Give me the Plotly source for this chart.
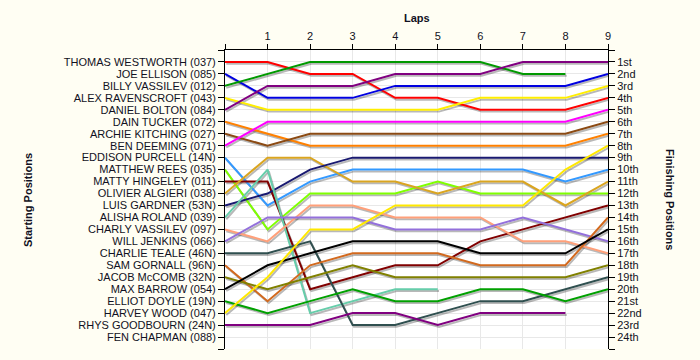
import plotly.graph_objects as go

laps = [0, 1, 2, 3, 4, 5, 6, 7, 8, 9]
lap_labels = ["", "1", "2", "3", "4", "5", "6", "7", "8", "9"]

drivers = [
    "THOMAS WESTWORTH (037)", "JOE ELLISON (085)", "BILLY VASSILEV (012)",
    "ALEX RAVENSCROFT (043)", "DANIEL BOLTON (084)", "DAIN TUCKER (072)",
    "ARCHIE KITCHING (027)", "BEN DEEMING (071)", "EDDISON PURCELL (14N)",
    "MATTHEW REES (035)", "MATTY HINGELEY (011)", "OLIVIER ALGIERI (038)",
    "LUIS GARDNER (53N)", "ALISHA ROLAND (039)", "CHARLY VASSILEV (097)",
    "WILL JENKINS (066)", "CHARLIE TEALE (46N)", "SAM GORNALL (96N)",
    "JACOB McCOMB (32N)", "MAX BARROW (054)", "ELLIOT DOYLE (19N)",
    "HARVEY WOOD (047)", "RHYS GOODBOURN (24N)", "FEN CHAPMAN (088)",
]

finish_labels = ["1st", "2nd", "3rd", "4th", "5th", "6th", "7th", "8th", "9th", "10th",
                 "11th", "12th", "13th", "14th", "15th", "16th", "17th", "18th", "19th",
                 "20th", "21st", "22nd", "23rd", "24th"]

N = None
thomas_westworth = [1, 1, 2, 2, 4, 4, 5, 5, 5, 4]
joe_ellison = [2, 4, 4, 4, 3, 3, 3, 3, 3, 2]
billy_vassilev = [3, 2, 1, 1, 1, 1, 1, 2, 2, N]
alex_ravenscroft = [4, 5, 5, 5, 5, 5, 4, 4, 4, 3]
daniel_bolton = [5, 3, 3, 3, 2, 2, 2, 1, 1, 1]
dain_tucker = [6, 7, 8, 8, 8, 8, 8, 8, 8, 7]
archie_kitching = [7, 8, 7, 7, 7, 7, 7, 7, 7, 6]
ben_deeming = [8, 6, 6, 6, 6, 6, 6, 6, 6, 5]
eddison_purcell = [9, 13, 11, 10, 10, 10, 10, 10, 11, 10]
matthew_rees = [10, 15, 12, 12, 12, 11, 12, 12, 12, 12]
matty_hingeley = [11, 11, 20, 19, 18, 18, 16, 15, 14, 13]
olivier_algieri = [12, 9, 9, 11, 11, 12, 11, 11, 13, 11]
luis_gardner = [13, 12, 10, 9, 9, 9, 9, 9, 9, 9]
alisha_roland = [14, 10, 22, 21, 20, 20, N, N, N, N]
charly_vassilev = [15, 16, 13, 13, 14, 14, 14, 16, 16, 17]
will_jenkins = [16, 14, 14, 14, 15, 15, 15, 14, 15, 16]
charlie_teale = [17, 17, 16, 23, 23, 22, 21, 21, 20, 19]
sam_gornall = [18, 21, 18, 17, 17, 17, 18, 18, 18, 14]
jacob_mccomb = [19, 20, 19, 18, 19, 19, 19, 19, 19, 18]
max_barrow = [20, 18, 17, 16, 16, 16, 17, 17, 17, 15]
elliot_doyle = [21, 22, 21, 20, 21, 21, 20, 20, 21, 20]
harvey_wood = [22, 19, 15, 15, 13, 13, 13, 13, 10, 8]
rhys_goodbourn = [23, 23, 23, 22, 22, 23, 22, 22, 22, N]

series = [
    (thomas_westworth, "#FF0000"), (joe_ellison, "#0000E0"), (billy_vassilev, "#009900"),
    (alex_ravenscroft, "#FFEE00"), (daniel_bolton, "#800080"), (dain_tucker, "#FF8000"),
    (archie_kitching, "#8B4A13"), (ben_deeming, "#FF00FF"), (eddison_purcell, "#3399FF"),
    (matthew_rees, "#7FFF00"), (matty_hingeley, "#800000"), (olivier_algieri, "#DAA520"),
    (luis_gardner, "#191970"), (alisha_roland, "#66CDAA"), (charly_vassilev, "#FFA07A"),
    (will_jenkins, "#9370DB"), (charlie_teale, "#2F4F4F"), (sam_gornall, "#D2691E"),
    (jacob_mccomb, "#808000"), (max_barrow, "#000000"), (elliot_doyle, "#00A000"),
    (harvey_wood, "#FFE800"), (rhys_goodbourn, "#800080"),
]

fig = go.Figure()

# shadows
for vals, col in series:
    fig.add_trace(go.Scatter(
        x=[l + 0.03 for l in laps],
        y=[v + 0.15 if v is not None else None for v in vals],
        mode="lines", line=dict(color="rgba(0,0,0,0.28)", width=2),
        hoverinfo="skip", showlegend=False))

for (vals, col), name in zip(series, drivers):
    fig.add_trace(go.Scatter(
        x=laps, y=vals, mode="lines", name=name,
        line=dict(color=col, width=2), showlegend=False))

fig.add_trace(go.Scatter(x=[None], y=[None], yaxis="y2", showlegend=False))

font_col = "#111122"
L, R, T, B = 225, 92, 50, 11
W, H = 700, 360
pw = W - L - R
ph = H - T - B

fig.update_layout(
    width=W, height=H,
    margin=dict(l=L, r=R, t=T, b=B),
    paper_bgcolor="#FFFEF3",
    plot_bgcolor="#FFFFFF",
    font=dict(family="Liberation Sans, Arial, sans-serif", size=11, color=font_col),
    xaxis=dict(
        range=[0, 9], side="top", tickvals=laps, ticktext=lap_labels,
        ticks="outside", ticklen=5, tickcolor="black",
        showline=True, linecolor="black", linewidth=1,
        showgrid=True, gridcolor="#E8E8E8", gridwidth=1, zeroline=False,
    ),
    yaxis=dict(
        range=[25, 0], tickvals=list(range(0, 26)),
        ticktext=[""] + drivers + [""],
        ticks="outside", ticklen=6, tickcolor="black",
        showline=True, linecolor="black", linewidth=1,
        showgrid=True, gridcolor="#E8E8E8", gridwidth=1, zeroline=False,
    ),
    yaxis2=dict(
        range=[25, 0], overlaying="y", side="right",
        tickvals=list(range(0, 26)), ticktext=[""] + finish_labels + [""],
        ticks="outside", ticklen=6, tickcolor="black",
        showline=True, linecolor="black", linewidth=1,
        showgrid=False, zeroline=False,
    ),
    annotations=[
        dict(text="<b>Laps</b>", xref="paper", yref="paper",
             x=0.5, y=(H - B - 18) / ph,
             xanchor="center", yanchor="middle", showarrow=False),
        dict(text="<b>Starting Positions</b>", xref="paper", yref="paper",
             x=(28 - L) / pw, y=(H - B - 200) / ph,
             xanchor="center", yanchor="middle", showarrow=False, textangle=-90),
        dict(text="<b>Finishing Positions</b>", xref="paper", yref="paper",
             x=(670 - L) / pw, y=(H - B - 199) / ph,
             xanchor="center", yanchor="middle", showarrow=False, textangle=90),
    ],
)

fig.write_html("out.html", config={"displayModeBar": False},
               post_script="document.body.style.margin='0';document.body.style.padding='0';")
